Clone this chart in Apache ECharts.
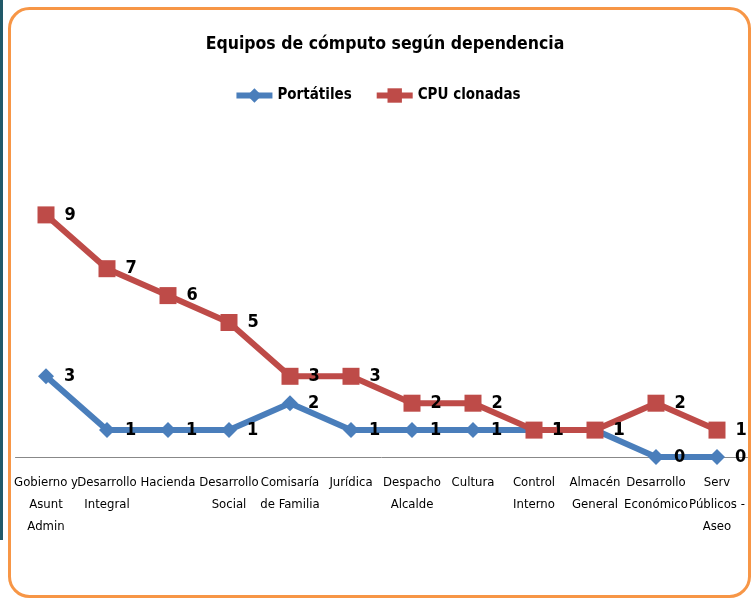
<!DOCTYPE html>
<html><head><meta charset="utf-8">
<script src="https://cdn.jsdelivr.net/npm/echarts@6/dist/echarts.min.js"></script>
<style>html,body{margin:0;padding:0;background:#fff}#c{width:754px;height:599px}</style>
</head><body><div id="c"></div>
<script>
const categories = ["Gobierno y\nAsunt\nAdmin","Desarrollo\nIntegral","Hacienda","Desarrollo\nSocial","Comisaría\nde Familia","Jurídica","Despacho\nAlcalde","Cultura","Control\nInterno","Almacén\nGeneral","Desarrollo\nEconómico","Serv\nPúblicos -\nAseo"];
const portatiles = [3,1,1,1,2,1,1,1,1,1,0,0];
const cpuClonadas = [9,7,6,5,3,3,2,2,1,1,2,1];
const seriesNames = ["Portátiles","CPU clonadas"];

const chart = echarts.init(document.getElementById('c'));
const narrow = '"DejaVu Sans Condensed", "Liberation Sans Narrow", sans-serif';
const lbl = {show:true, position:'right', distance:10, color:'#000', fontWeight:'bold', fontSize:18, fontFamily:narrow};
chart.setOption({
  animation:false,
  graphic:[
    {type:'rect', shape:{x:0,y:0,width:3,height:540}, style:{fill:'#215968'}, z:-10},
    {type:'rect', shape:{x:9.5,y:8.5,width:740,height:588,r:20}, style:{fill:'#fff', stroke:'#F79646', lineWidth:3}, z:-9}
  ],
  title:{text:'Equipos de cómputo según dependencia', left:380, textAlign:'center', top:30,
    textStyle:{fontSize:17.5, fontWeight:'bold', color:'#000', fontFamily:narrow}},
  legend:{top:83, left:'center', itemGap:22, itemWidth:36, itemHeight:18,
    lineStyle:{width:6},
    textStyle:{fontSize:15, fontWeight:'bold', color:'#000', fontFamily:narrow},
    data:seriesNames},
  grid:{left:15.5, right:6.5, top:188, bottom:142},
  xAxis:{type:'category', data:categories, boundaryGap:true,
    axisLine:{lineStyle:{color:'#888', width:1}}, axisTick:{show:false},
    axisLabel:{interval:0, color:'#000', fontSize:13, fontFamily:narrow, lineHeight:22, margin:15}},
  yAxis:{type:'value', min:0, max:10, show:false, splitLine:{show:false}},
  series:[
    {name:seriesNames[0], type:'line', data:portatiles, symbol:'diamond', symbolSize:16,
      lineStyle:{color:'#4A7EBB', width:6}, itemStyle:{color:'#4A7EBB'}, label:lbl, z:2},
    {name:seriesNames[1], type:'line', data:cpuClonadas, symbol:'rect', symbolSize:17,
      lineStyle:{color:'#BE4B48', width:6}, itemStyle:{color:'#BE4B48'}, label:lbl, z:3}
  ]
});
</script></body></html>
